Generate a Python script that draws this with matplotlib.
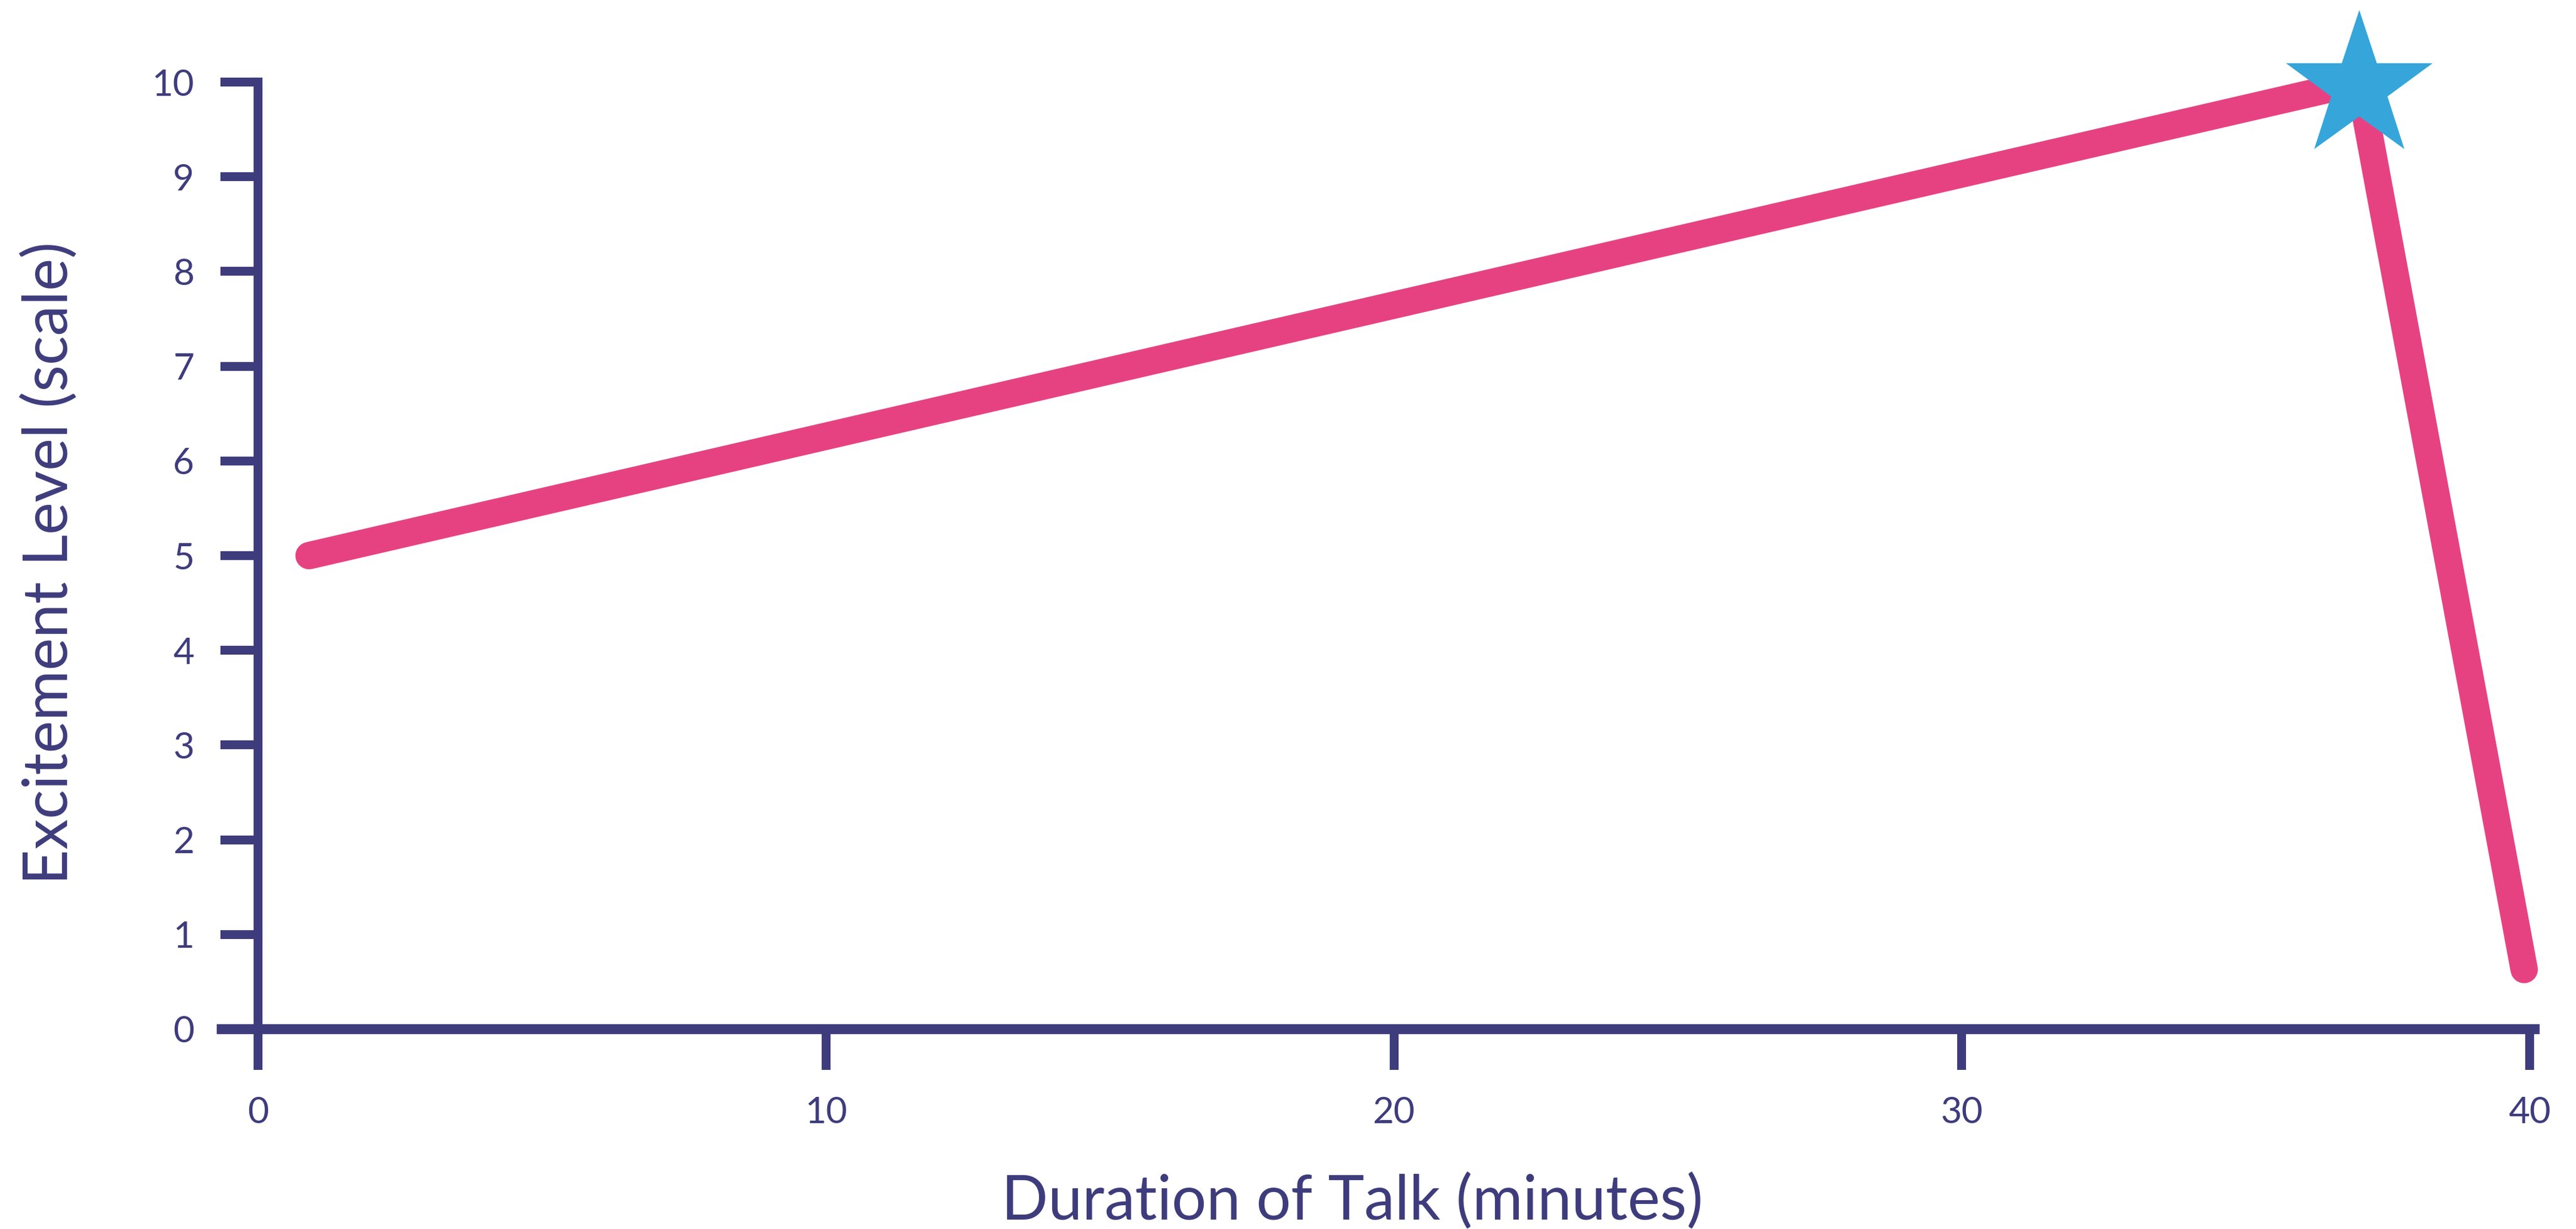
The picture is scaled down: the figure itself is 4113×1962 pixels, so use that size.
import matplotlib.pyplot as plt

# data
talk_minutes = [0.9, 37, 39.9]
excitement = [5.0, 10.0, 0.63]
peak_minute = [37]
peak_level = [9.95]
x_ticks = [0, 10, 20, 30, 40]
y_ticks = list(range(0, 11))

INK = "#3E3C7C"
PINK = "#E64282"
BLUE = "#35A5DA"

plt.rcParams["font.family"] = ["Lato", "DejaVu Sans"]

fig = plt.figure(figsize=(4113 / 300, 1962 / 300), dpi=300)
ax = fig.add_axes([0.0847, 0.1626, 0.904, 0.7706])

ax.plot(talk_minutes, excitement, color=PINK, lw=10.5,
        solid_capstyle="round", solid_joinstyle="round", clip_on=False, zorder=3)
ax.plot(peak_minute, peak_level, marker="*", ms=59, color=BLUE, mec="none",
        ls="none", clip_on=False, zorder=4)

ax.set_xlim(-0.7, 40.3)
ax.set_ylim(0, 10)

for side in ["top", "right"]:
    ax.spines[side].set_visible(False)
ax.spines["left"].set_position(("data", 0))
ax.spines["left"].set_bounds(0, 10)
ax.spines["left"].set_linewidth(3.4)
ax.spines["left"].set_color(INK)
ax.spines["bottom"].set_bounds(-0.64, 40.08)
ax.spines["bottom"].set_linewidth(3.8)
ax.spines["bottom"].set_color(INK)

ax.set_xticks(x_ticks)
ax.set_yticks(y_ticks)
ax.tick_params(axis="y", direction="out", length=14.4, width=3.4, color=INK,
               labelcolor=INK, labelsize=14, pad=10)
ax.tick_params(axis="x", direction="out", length=15.6, width=3.4, color=INK,
               labelcolor=INK, labelsize=14, pad=10)

fig.text(0.525, 0.0075, "Duration of Talk (minutes)", color=INK, fontsize=23.5,
         ha="center", va="baseline")
fig.text(0.0195, 0.542, "Excitement Level (scale)", color=INK, fontsize=23.5,
         rotation=90, ha="center", va="center")

fig.savefig("out.png", dpi=300)
